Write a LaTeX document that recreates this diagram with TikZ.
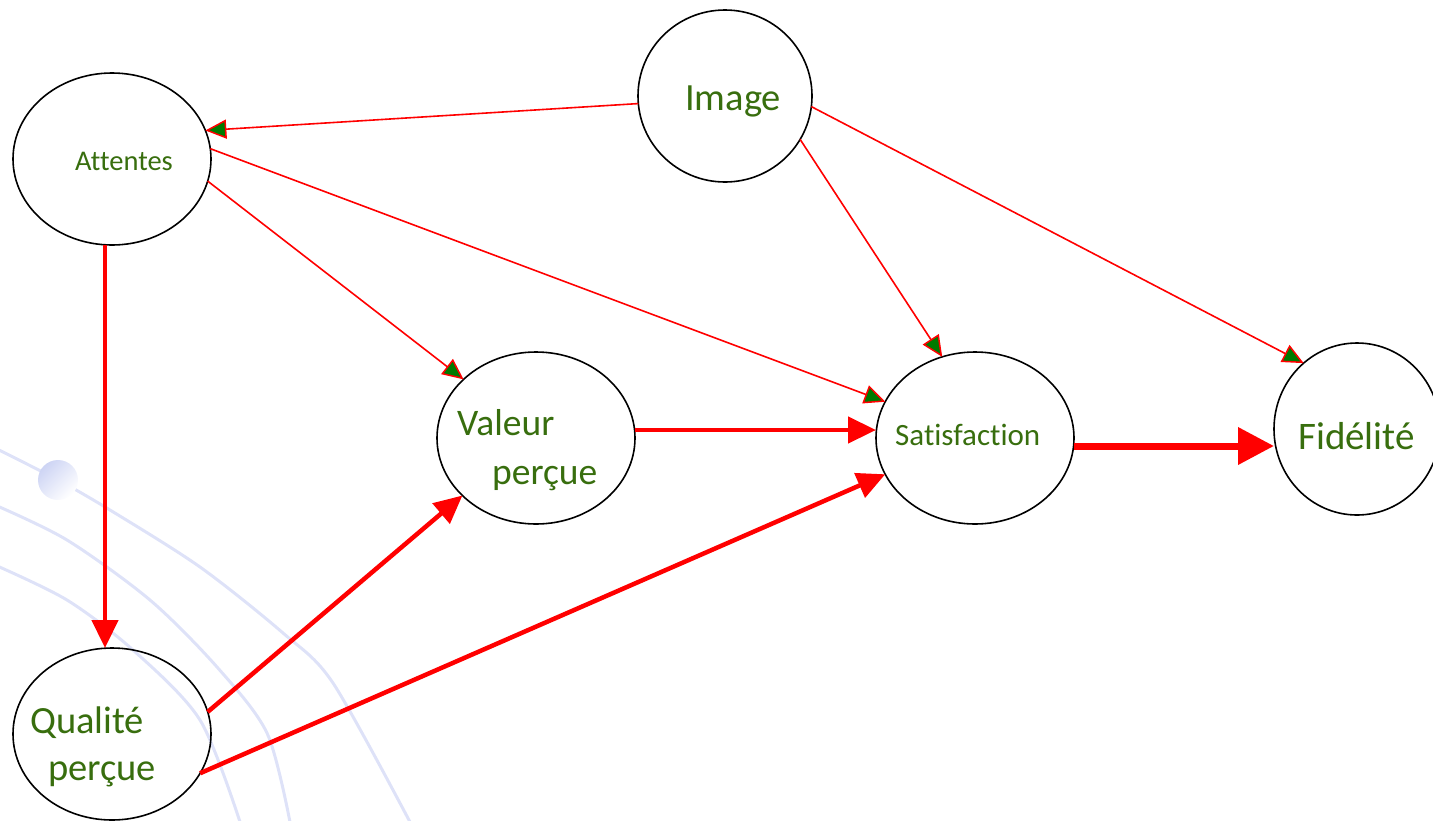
\documentclass[tikz,border=0pt]{standalone}
\usepackage{fontspec}
\setmainfont{Carlito}[Ligatures=NoCommon]
\usetikzlibrary{arrows.meta,shapes.geometric}
\definecolor{txtgreen}{RGB}{56,110,14}
\definecolor{tipgreen}{RGB}{0,122,0}
\definecolor{bgline}{RGB}{222,226,248}
\definecolor{ballcol}{RGB}{205,212,244}
\begin{document}
\begin{tikzpicture}[x=1pt,y=-1pt,
  ell/.style={draw=black, line width=1.6pt, ellipse, inner sep=0pt, outer sep=0pt},
  lbl/.style={text=txtgreen, anchor=base west, inner sep=0pt},
  thinarrow/.style={draw=red, line width=1.6pt, -{Triangle[length=21pt,width=19pt,fill=tipgreen,line width=1.5pt]}},
  thickarrow/.style={draw=red, line width=4.5pt, -{Triangle[length=28pt,width=26pt,fill=red]}},
  bigarrow/.style={draw=red, line width=7pt, -{Triangle[length=36pt,width=36pt,fill=red]}},
  bg/.style={draw=bgline, line width=3pt}
  ]
\useasboundingbox (0,0) rectangle (1433,820);
% background
\draw[bg] plot[smooth] coordinates {(-5,448) (58,480) (110,510) (200,567) (283,633) (333,683) (410,822)};
\draw[bg] plot[smooth] coordinates {(-5,505) (67,540) (150,600) (217,667) (267,733) (290,822)};
\draw[bg] plot[smooth] coordinates {(-5,565) (67,600) (133,650) (200,720) (240,822)};
\shade[left color=ballcol, right color=white, shading angle=45] (58,480) circle[radius=20];
% nodes
\node[ell, minimum width=198pt, minimum height=172pt] (Attentes) at (112,159) {};
\node[ell, minimum width=174pt, minimum height=172pt] (Image) at (725,96) {};
\node[ell, minimum width=198pt, minimum height=172pt] (Valeur) at (536,438) {};
\node[ell, minimum width=198pt, minimum height=172pt] (Satisfaction) at (975,438) {};
\node[ell, minimum width=166pt, minimum height=172pt] (Fidelite) at (1357,429) {};
\node[ell, minimum width=198pt, minimum height=172pt] (Qualite) at (112,734) {};
% labels
\node[lbl, font=\fontsize{38.5}{40}\selectfont] (tImage) at (685,110) {Image};
\node[lbl, font=\fontsize{28.5}{30}\selectfont] (tAttentes) at (75,170) {Attentes};
\node[lbl, font=\fontsize{31}{32}\selectfont] (tSatisfaction) at (895,445) {Satisfaction};
\node[lbl, font=\fontsize{37.5}{40}\selectfont] (tValeur1) at (457,435) {Valeur};
\node[lbl, font=\fontsize{37.5}{40}\selectfont] (tValeur2) at (492,484) {perçue};
\node[lbl, font=\fontsize{38.5}{40}\selectfont] (tQualite1) at (30,733) {Qualité};
\node[lbl, font=\fontsize{38.5}{40}\selectfont] (tQualite2) at (48,780) {perçue};
\node[lbl, font=\fontsize{39}{40}\selectfont] (tFidelite) at (1298,449) {Fidélité};
% thin arrows
\draw[thinarrow] (Image.185.9) -- (Attentes.17.7);
\draw[thinarrow] (Attentes.-13.8) -- (Valeur.141.4);
\draw[thinarrow] (Attentes.6.3) -- (Satisfaction.158.2);
\draw[thinarrow] (Image.-30.4) -- (Satisfaction.112.4);
\draw[thinarrow] (Image.-7) -- (Fidelite.129.8);
% thick arrows
\draw[thickarrow] ([xshift=-7pt]Attentes.south) -- ([xshift=-7pt]Qualite.north);
\draw[thickarrow] (Qualite.13.8) -- (Valeur.218.1);
\draw[thickarrow] (Qualite.-24.3) -- (Satisfaction.202);
\coordinate (vs) at ([yshift=8pt]Valeur.east);
\draw[thickarrow] (vs) -- (vs -| Satisfaction.west);
\coordinate (sf) at ([yshift=-8pt]Satisfaction.east);
\draw[bigarrow] (sf) -- (sf -| Fidelite.west);
\end{tikzpicture}
\end{document}
